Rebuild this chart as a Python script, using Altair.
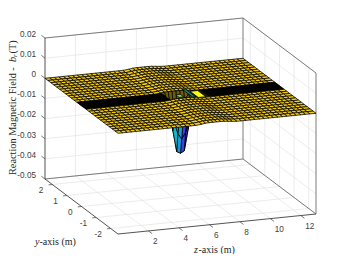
import altair as alt
import pandas as pd

# --- data -------------------------------------------------------------
z_ticks = [2, 4, 6, 8, 10, 12]
y_ticks = [-2, -1, 0, 1, 2]
b_ticks = [0.02, 0.01, 0, -0.01, -0.02, -0.03, -0.04, -0.05]
b_labels = ["0.02", "0.01", "0", "-0.01", "-0.02", "-0.03", "-0.04", "-0.05"]
z_left = [0.0, 0.3, 0.6, 0.9, 1.2, 1.5, 1.8, 2.1, 2.4, 2.7, 3.0, 3.3, 3.6, 3.9, 4.2, 4.5, 4.8, 5.1]
z_mid = [5.5, 5.75, 6.0, 6.25, 6.5, 6.75, 7.0, 7.25, 7.5]
z_right = [7.8, 8.1, 8.4, 8.7, 9.0, 9.3, 9.6, 9.9, 10.2, 10.5, 10.8, 11.1, 11.4, 11.7, 12.0, 12.3, 12.6, 13.0]
y_low = [-2.5, -2.3, -2.1, -1.9, -1.7, -1.5, -1.3, -1.1, -0.9, -0.7, -0.5]
y_band = [-0.32, -0.24, -0.16, -0.08, 0.0, 0.08, 0.16, 0.24, 0.32]
y_high = [0.5, 0.7, 0.9, 1.1, 1.3, 1.5, 1.7, 1.9, 2.1, 2.3, 2.5]
dent_z = [5.75, 6.0, 6.25, 6.5, 6.75, 7.0, 7.25]
dent_y = [-0.24, -0.16, -0.08, 0.0, 0.08, 0.16, 0.24]
dent_b = [
    [-0.001, -0.004, -0.006, -0.007, -0.006, -0.004, -0.001],
    [-0.002, -0.008, -0.012, -0.014, -0.012, -0.008, -0.002],
    [-0.003, -0.012, -0.018, -0.021, -0.018, -0.012, -0.003],
    [-0.005, -0.017, -0.0275, -0.0285, -0.0275, -0.017, -0.005],
    [-0.003, -0.012, -0.018, -0.021, -0.018, -0.012, -0.003],
    [-0.002, -0.008, -0.012, -0.014, -0.012, -0.008, -0.002],
    [-0.001, -0.004, -0.006, -0.007, -0.006, -0.004, -0.001],
]
hump_z = [5.5, 5.75, 6.0, 6.25, 6.5, 6.75, 7.0, 7.25, 7.5]
hump_b = [0.0003, 0.0006, 0.0007, 0.0007, 0.0007, 0.0007, 0.0006, 0.0004, 0.0002]
parula = ["#3e26a8", "#4743f0", "#2f74f5", "#1f96d8", "#0eb0bf", "#2cc197", "#80cb58", "#d0ba32", "#e8c420", "#f4cc1c"]
# colour of the dent's wall by z node
wall_z = [5.75, 6.0, 6.25, 6.5, 6.75, 7.0, 7.25]
wall_c = ["#0eb0bf", "#17b5c8", "#1f96d8", "#3e40e0", "#3e26a8", "#2f50e0", "#2f74f5"]
# patches seen where the coil crosses the surface: z from, z to, y from, y to, colour
spots_z0 = [7.1, 7.4, 6.3]
spots_z1 = [7.3, 7.9, 6.6]
spots_y0 = [-0.2, -0.28, -0.12]
spots_y1 = [0.5, 0.28, 0.12]
spots_c = ["#14807f", "#f9fb15", "#80cb58"]

# --- view of the box ---------------------------------------------------
W, H = 334, 246
Z_RANGE = (0, 13)
Y_RANGE = (-2.5, 2.5)
B_RANGE = (-0.05, 0.02)


def project(z, y, b):
    px = 118 - 8 + (z / 13) * 198 + ((y + 2.5) / 5) * (-73)
    py = 234 - 8 + (z / 13) * (-20) + ((y + 2.5) / 5) * (-55) + ((b + 0.05) / 0.07) * (-141)
    return px, py


def field(z, y):
    v = 0.0
    if z in hump_z:
        v = hump_b[hump_z.index(z)]
    if z in dent_z and y in dent_y:
        v = dent_b[dent_y.index(y)][dent_z.index(z)]
    return v


def colour(b):
    t = (b + 0.0285) / 0.0285
    return parula[max(0, min(len(parula) - 1, round(t * (len(parula) - 1))))]


def polylines(items):
    rows = []
    for i, pts in enumerate(items):
        for k, (z, y, b) in enumerate(pts):
            px, py = project(z, y, b)
            rows.append({"px": px, "py": py, "line": i, "k": k})
    return pd.DataFrame(rows)


X = alt.X("px:Q", scale=alt.Scale(domain=[0, W], nice=False, zero=False), axis=None)
Y = alt.Y("py:Q", scale=alt.Scale(domain=[H, 0], nice=False, zero=False), axis=None)


def lines(items, colr, width):
    return alt.Chart(polylines(items)).mark_line(color=colr, strokeWidth=width).encode(
        x=X, y=Y, detail="line:N", order="k:Q")


z0, z1 = Z_RANGE
y0, y1 = Y_RANGE
b0, b1 = B_RANGE

grid = []
for z in z_ticks:
    grid.append([(z, y0, b0), (z, y1, b0), (z, y1, b1)])
for y in y_ticks:
    grid.append([(z0, y, b0), (z1, y, b0), (z1, y, b1)])
for b in b_ticks:
    grid.append([(z0, y1, b), (z1, y1, b), (z1, y0, b)])

box = [
    [(z0, y1, b1), (z1, y1, b1), (z1, y0, b1), (z1, y0, b0), (z1, y1, b0), (z0, y1, b0)],
    [(z1, y1, b0), (z1, y1, b1)],
]
axes_dark = [[(z0, y1, b1), (z0, y1, b0), (z0, y0, b0), (z1, y0, b0)]]
ticks = []
for z in z_ticks:
    ticks.append([(z, y0, b0), (z, y0 - 0.25, b0)])
for y in y_ticks:
    ticks.append([(z0, y, b0), (z0 - 0.25, y, b0)])
for b in b_ticks:
    ticks.append([(z0, y1, b), (z0, y1 + 0.25, b)])

# --- surface -------------------------------------------------------------
z_nodes = z_left + z_mid + z_right
y_nodes = y_low + y_band + y_high
rows = []
cell = 0
for j in range(len(y_nodes) - 2, -1, -1):
    for i in range(len(z_nodes) - 2, -1, -1):
        za, zb = z_nodes[i], z_nodes[i + 1]
        ya, yb = y_nodes[j], y_nodes[j + 1]
        in_band = y_band[0] <= ya and yb <= y_band[-1]
        fill = colour(field(za, ya))
        if in_band:
            fill = "#000000" if not (5.2 <= za <= 7.9) else "#6e5c0c"
            if za in wall_z and -0.16 <= ya <= 0.0:
                fill = wall_c[wall_z.index(za)]
        corners = [(za, ya), (zb, ya), (zb, yb), (za, yb), (za, ya)]
        for k, (zz, yy) in enumerate(corners):
            px, py = project(zz, yy, field(zz, yy))
            rows.append({"px": px, "py": py, "cell": cell, "k": k, "fill": fill})
        cell += 1
for a, b, c, d, col in zip(spots_z0, spots_z1, spots_y0, spots_y1, spots_c):
    for k, (zz, yy) in enumerate([(a, c), (b, c), (b, d), (a, d), (a, c)]):
        px, py = project(zz, yy, 0.0)
        rows.append({"px": px, "py": py, "cell": cell, "k": k, "fill": col})
    cell += 1
surface = alt.Chart(pd.DataFrame(rows)).mark_line(stroke="#000000", strokeWidth=0.75, strokeJoin="miter").encode(
    x=X, y=Y, detail="cell:N", order="k:Q", fill=alt.Fill("fill:N", scale=None))

# --- text ------------------------------------------------------------------
SANS = "Liberation Sans"
SERIF = "Liberation Serif"


def texts(rows, align, font, size, colr="#404040", style="normal", angle=0):
    return alt.Chart(pd.DataFrame(rows)).mark_text(
        align=align, baseline="middle", font=font, fontSize=size, color=colr,
        fontStyle=style, angle=angle).encode(x=X, y=Y, text="t:N")


def at(z, y, b, dx, dy, t):
    px, py = project(z, y, b)
    return {"px": px + dx, "py": py + dy, "t": t}


b_text = [at(z0, y1, b, -9, -3.2, s) for b, s in zip(b_ticks, b_labels)]
y_text = [at(z0, y, b0, -9, 6.5, str(y)) for y in y_ticks]
z_text = [at(z, y0, b0, 4.5, 11, str(z)) for z in z_ticks]

TX = 4.5
titles = [
    texts([{"px": 35 - 8, "py": 241.5 - 8, "t": "y"}], "left", SERIF, 10, "#262626", "italic"),
    texts([{"px": 39.5 - 8, "py": 241.5 - 8, "t": "-axis (m)"}], "left", SERIF, 10, "#262626"),
    texts([{"px": 194 - 8, "py": 250 - 8, "t": "z"}], "left", SERIF, 10, "#262626", "italic"),
    texts([{"px": 198.5 - 8, "py": 250 - 8, "t": "-axis (m)"}], "left", SERIF, 10, "#262626"),
    texts([{"px": TX, "py": 175 - 8, "t": "Reaction Magnetic Field -"}], "left", SERIF, 10.3, "#262626", "normal", 270),
    texts([{"px": TX, "py": 62 - 8, "t": "b"}], "left", SERIF, 10.3, "#262626", "italic", 270),
    texts([{"px": TX + 2, "py": 57 - 8, "t": "r"}], "left", SERIF, 7, "#262626", "italic", 270),
    texts([{"px": TX, "py": 53.5 - 8, "t": "(T)"}], "left", SERIF, 10.3, "#262626", "normal", 270),
]

chart = alt.layer(
    lines(grid, "#e4e4e4", 0.7),
    lines(box, "#6e6e6e", 0.9),
    lines(axes_dark, "#404040", 0.9),
    lines(ticks, "#404040", 0.7),
    surface,
    texts(b_text, "right", SANS, 8.2),
    texts(y_text, "right", SANS, 8.2),
    texts(z_text, "left", SANS, 8.2),
    *titles,
).properties(width=W, height=H, padding=0, autosize=alt.AutoSizeParams(type="none")).configure_view(stroke=None)

chart.save("out.html", embed_options={"renderer": "svg", "actions": False})
